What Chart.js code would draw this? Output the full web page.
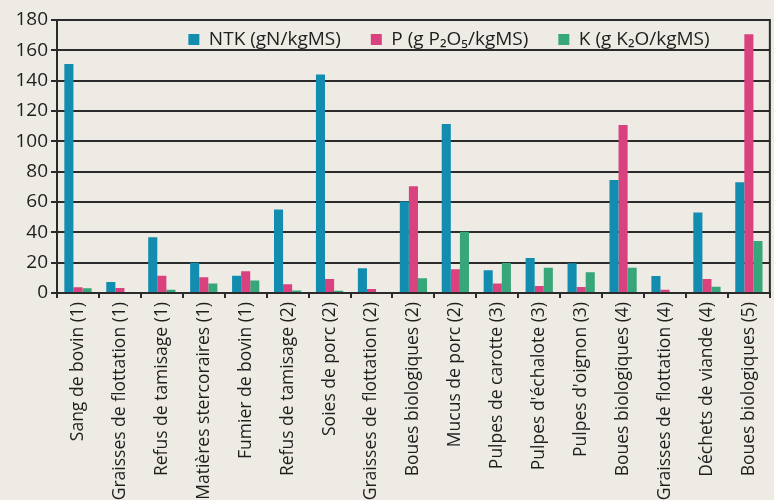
<!DOCTYPE html>
<html>
<head>
<meta charset="utf-8">
<script src="https://cdn.jsdelivr.net/npm/chart.js@4"></script>
<style>
  html, body { margin: 0; padding: 0; background: #eeebe4; }
  #wrap { width: 774px; height: 500px; }
</style>
</head>
<body>
<div id="wrap"><canvas id="chart" width="774" height="500"></canvas></div>
<script>
// Categories and series values
const categories = [
    'Sang de bovin (1)', 'Graisses de flottation (1)', 'Refus de tamisage (1)',
    'Matières stercoraires (1)', 'Fumier de bovin (1)', 'Refus de tamisage (2)',
    'Soies de porc (2)', 'Graisses de flottation (2)', 'Boues biologiques (2)',
    'Mucus de porc (2)', 'Pulpes de carotte (3)', "Pulpes d'échalote (3)",
    "Pulpes d'oignon (3)", 'Boues biologiques (4)', 'Graisses de flottation (4)',
    'Déchets de viande (4)', 'Boues biologiques (5)'
];
const ntkValues = [151, 7.3, 36.7, 20, 11.3, 55, 144, 16.4, 60.4, 111.4, 15, 23, 19.6, 74.5, 11.2, 53, 73];
const pValues   = [3.8, 3.3, 11.3, 10.4, 14.4, 5.8, 9.3, 2.7, 70.4, 15.6, 6.2, 4.6, 4, 110.7, 2.2, 9.2, 170.6];
const kValues   = [3.1, 0.5, 2.2, 6.2, 8.2, 1.6, 1.5, 0.5, 9.8, 40.4, 19.8, 16.7, 13.6, 16.7, 0.5, 4.2, 34.3];

const seriesLabels = ['NTK (gN/kgMS)', 'P (g P\u2082O\u2085/kgMS)', 'K (g K\u2082O/kgMS)'];
const yTicks = [0, 20, 40, 60, 80, 100, 120, 140, 160, 180];

const ink = '#2b2b2b';
const fontFamily = "'Open Sans', 'Noto Sans', sans-serif";

// Box around the plot area (right edge is not a grid line)
const frame = {
    id: 'frame',
    afterDraw(chart) {
        const a = chart.chartArea;
        const ctx = chart.ctx;
        ctx.save();
        ctx.strokeStyle = ink;
        ctx.lineWidth = 2;
        ctx.strokeRect(a.left, a.top, a.right - a.left, a.bottom - a.top);
        ctx.restore();
    }
};

// Legend sits inside the plot: take no room in the layout, then
// give it back its height and nudge it into place
const legendInside = {
    id: 'legendInside',
    beforeLayout(chart) {
        const lg = chart.legend;
        if (lg && !lg._noHeight) {
            const fit = lg.fit.bind(lg);
            lg.fit = function () { fit(); this._realHeight = this.height; this.height = 0; };
            lg._noHeight = true;
        }
    },
    afterLayout(chart) {
        const lg = chart.legend;
        if (lg) {
            lg.left += 64;
            lg.right += 64;
            lg.top -= 20;
            lg.height = lg._realHeight || 60;
            lg.bottom = lg.top + lg.height;
        }
    }
};

new Chart(document.getElementById('chart').getContext('2d'), {
    type: 'bar',
    data: {
        labels: categories,
        datasets: [
            { label: seriesLabels[0], data: ntkValues, backgroundColor: '#128db0' },
            { label: seriesLabels[1], data: pValues, backgroundColor: '#d9427f' },
            { label: seriesLabels[2], data: kValues, backgroundColor: '#37a67a' }
        ]
    },
    options: {
        responsive: false,
        animation: false,
        layout: { padding: { top: 20, right: 4, left: 0, bottom: 0 } },
        datasets: {
            bar: { categoryPercentage: 0.65, barPercentage: 1.0 }
        },
        scales: {
            x: {
                afterFit(scale) { scale.height = 207; },
                grid: {
                    offset: true,
                    drawOnChartArea: false,
                    drawTicks: true,
                    tickLength: 5,
                    color: ink,
                    lineWidth: 2
                },
                border: { display: true, color: ink, width: 2 },
                ticks: {
                    color: '#1e1e1e',
                    font: { family: fontFamily, size: 17.5 },
                    maxRotation: 90,
                    minRotation: 90,
                    autoSkip: false,
                    padding: 4
                }
            },
            y: {
                min: 0,
                max: 180,
                afterFit(scale) { scale.width = 57; },
                afterBuildTicks(scale) { scale.ticks = yTicks.map(v => ({ value: v })); },
                grid: {
                    color: ink,
                    lineWidth: 2,
                    tickLength: 6
                },
                border: { display: true, color: ink, width: 2 },
                ticks: {
                    color: '#1e1e1e',
                    font: { family: fontFamily, size: 19 },
                    padding: 3
                }
            }
        },
        plugins: {
            legend: {
                position: 'top',
                align: 'center',
                labels: {
                    color: '#1e1e1e',
                    font: { family: fontFamily, size: 19 },
                    boxWidth: 11,
                    boxHeight: 11,
                    padding: 30
                }
            },
            tooltip: { enabled: false }
        }
    },
    plugins: [frame, legendInside]
});
</script>
</body>
</html>
